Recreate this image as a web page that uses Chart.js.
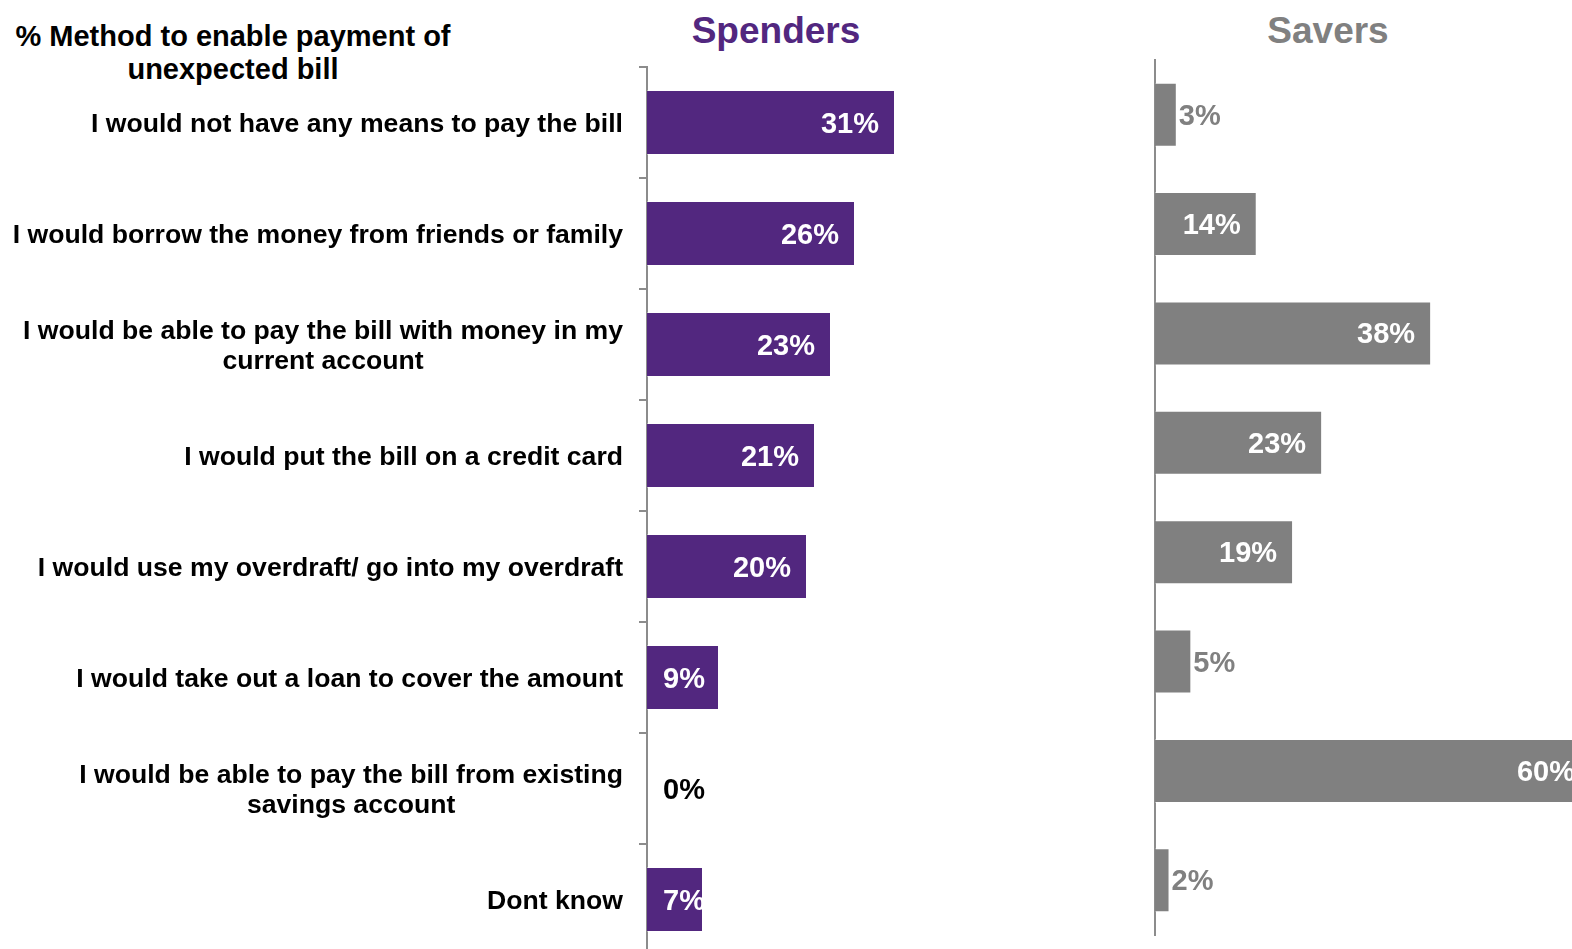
<!DOCTYPE html>
<html>
<head>
<meta charset="utf-8">
<title>Method to enable payment of unexpected bill</title>
<script src="https://cdn.jsdelivr.net/npm/chart.js@4.4.1/dist/chart.umd.min.js"></script>
<style>
  html, body {
    margin: 0;
    padding: 0;
    width: 1572px;
    height: 949px;
    overflow: hidden;
    background: #fff;
    font-family: "Liberation Sans", Arial, sans-serif;
  }
  .chart-box { position: absolute; }
  #spenders-box { left: 0; top: 0; width: 1080px; height: 960px; }
  #savers-box { left: 1100px; top: 0; width: 540px; height: 949px; }
  .heading {
    position: absolute;
    font-weight: bold;
    text-align: center;
    white-space: nowrap;
  }
  #question { left: 0; top: 20px; width: 466px; font-size: 29px; line-height: 33px; color: #000; }
  #spenders-title { left: 676px; top: 11px; width: 200px; font-size: 37px; line-height: 40px; color: #52277f; }
  #savers-title { left: 1228px; top: 11px; width: 200px; font-size: 37px; line-height: 40px; color: #808080; }
</style>
</head>
<body>
<div class="heading" id="question">% Method to enable payment of<br>unexpected bill</div>
<div class="heading" id="spenders-title">Spenders</div>
<div class="heading" id="savers-title">Savers</div>

<div class="chart-box" id="spenders-box"><canvas id="spenders-chart"></canvas></div>
<div class="chart-box" id="savers-box"><canvas id="savers-chart"></canvas></div>

<script>
const methods = [
  ["I would not have any means to pay the bill"],
  ["I would borrow the money from friends or family"],
  ["I would be able to pay the bill with money in my", "current account"],
  ["I would put the bill on a credit card"],
  ["I would use my overdraft/ go into my overdraft"],
  ["I would take out a loan to cover the amount"],
  ["I would be able to pay the bill from existing", "savings account"],
  ["Dont know"]
];
const spenders = [31, 26, 23, 21, 20, 9, 0, 7];
const savers = [3, 14, 38, 23, 19, 5, 60, 2];

const PURPLE = "#52277f";
const GREY = "#808080";
const AXIS = "#8c8c8c";
const FONT = '"Liberation Sans", Arial, sans-serif';

// percentage labels at the end of each bar
const valueLabels = {
  id: "valueLabels",
  afterDatasetsDraw(chart, args, opts) {
    const ctx = chart.ctx;
    const xs = chart.scales.x;
    const values = chart.data.datasets[0].data;
    const zero = xs.getPixelForValue(0);
    ctx.save();
    ctx.font = "bold 29px " + FONT;
    ctx.textBaseline = "middle";
    chart.getDatasetMeta(0).data.forEach((bar, i) => {
      const v = values[i];
      const text = v + "%";
      const w = ctx.measureText(text).width;
      const end = xs.getPixelForValue(v);
      let x, color;
      if (v === 0) {
        ctx.textAlign = "left";
        x = zero + 16;
        color = opts.zeroColor;
      } else if (opts.mode === "auto" && end - zero < w + 20) {
        // too short for the text: put it just past the bar end
        ctx.textAlign = "left";
        x = end + 2;
        color = opts.outsideColor;
      } else {
        ctx.textAlign = "right";
        x = Math.max(end - 16, zero + 16 + w);
        color = "#fff";
      }
      ctx.fillStyle = color;
      ctx.fillText(text, x, bar.y + 2);
    });
    ctx.restore();
  }
};

// category text, right-aligned block with centred lines
const categoryLabels = {
  id: "categoryLabels",
  afterDraw(chart) {
    const ctx = chart.ctx;
    const ys = chart.scales.y;
    const edge = chart.chartArea.left - 24;
    ctx.save();
    ctx.font = "bold 26.6px " + FONT;
    ctx.fillStyle = "#000";
    ctx.textAlign = "center";
    ctx.textBaseline = "middle";
    chart.data.labels.forEach((lines, i) => {
      const maxW = Math.max(...lines.map((l) => ctx.measureText(l).width));
      const cx = edge - maxW / 2;
      const cy = ys.getPixelForValue(i);
      const lh = 30.5;
      lines.forEach((l, j) => {
        ctx.fillText(l, cx, cy + (j - (lines.length - 1) / 2) * lh + 2);
      });
    });
    ctx.restore();
  }
};

function barChart(canvasId, values, color, xMax, padding, yAxis, labelOpts, extraPlugins) {
  return new Chart(document.getElementById(canvasId), {
    type: "bar",
    data: {
      labels: methods,
      datasets: [{
        data: values,
        backgroundColor: color,
        borderColor: "rgba(255,255,255,0.35)",
        borderWidth: 1,
        borderSkipped: "start",
        categoryPercentage: 1,
        barPercentage: 0.585
      }]
    },
    options: {
      indexAxis: "y",
      responsive: true,
      maintainAspectRatio: false,
      animation: false,
      layout: { padding: padding },
      plugins: {
        legend: { display: false },
        tooltip: { enabled: false },
        valueLabels: labelOpts
      },
      scales: {
        x: { display: false, min: 0, max: xMax },
        y: yAxis
      }
    },
    plugins: [valueLabels].concat(extraPlugins)
  });
}

barChart(
  "spenders-chart",
  spenders,
  PURPLE,
  50,
  { left: 639, top: 67, right: 33, bottom: 5 },
  {
    ticks: { display: false },
    grid: { display: true, drawOnChartArea: false, drawTicks: true, tickLength: 8, color: AXIS, lineWidth: 2 },
    border: { display: true, color: AXIS, width: 2 }
  },
  { mode: "inside", zeroColor: "#000", outsideColor: "#000" },
  [categoryLabels]
);

barChart(
  "savers-chart",
  savers,
  GREY,
  60,
  { left: 55, top: 60, right: 49, bottom: 14 },
  {
    ticks: { display: false },
    grid: { display: false, drawTicks: false },
    border: { display: true, color: AXIS, width: 2 }
  },
  { mode: "auto", zeroColor: GREY, outsideColor: GREY },
  []
);
</script>
</body>
</html>
